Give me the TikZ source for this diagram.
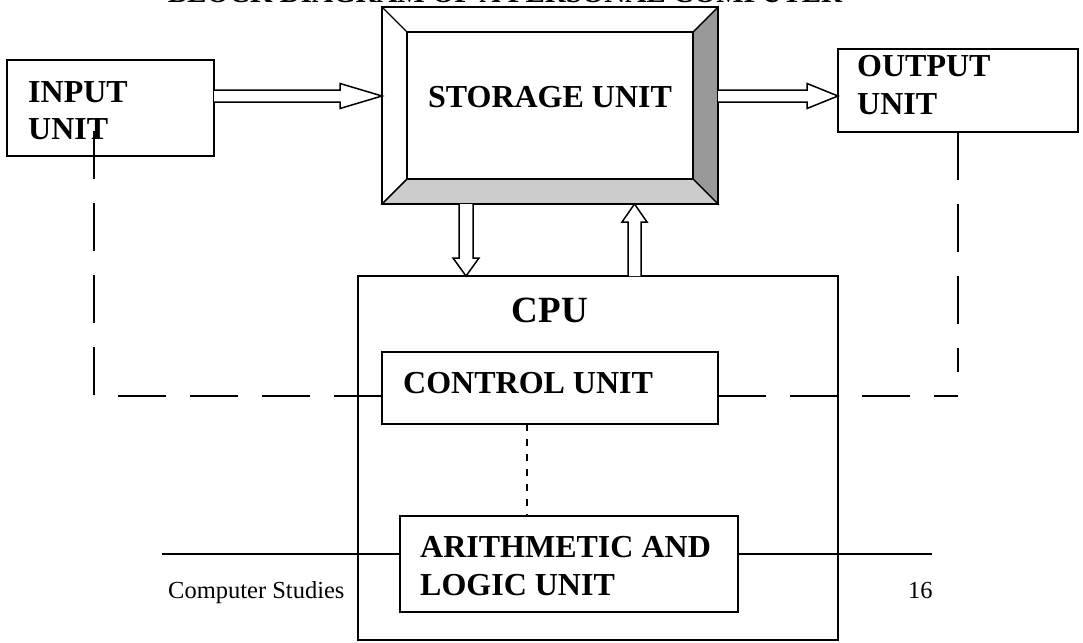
\documentclass[tikz,border=0pt]{standalone}
\usepackage{fontspec}
\setmainfont{Liberation Serif}
\usetikzlibrary{calc}
\tikzset{
  unitbox/.style={draw, line width=1.6pt, fill=white, inner sep=0pt, outer sep=0pt},
  hollow/.style={draw, line width=1.5pt, fill=white, line join=miter},
  link/.style={line width=1.5pt, dash pattern=on 48pt off 24pt},
  finelink/.style={line width=1.5pt, dash pattern=on 7pt off 8pt},
  rule/.style={line width=1.5pt},
  bevel/.style={line width=1.4pt, line join=miter},
  lbl/.style={inner sep=0pt, anchor=base west, font=\fontsize{32}{37}\selectfont\bfseries},
  foot/.style={inner sep=0pt, anchor=base west, font=\fontsize{24.5}{28}\selectfont},
}
\begin{document}
\begin{tikzpicture}[x=1pt, y=-1pt]
  \clip (0,0) rectangle (1083,642);
  \useasboundingbox (0,0) rectangle (1083,642);

  % heading (runs off the top edge of the page)
  \node[inner sep=0pt, anchor=base, font=\fontsize{29}{34}\selectfont\bfseries] (title) at (505,3)
    {BLOCK DIAGRAM OF A PERSONAL COMPUTER};

  % page footer rule (passes behind the ALU box)
  \coordinate (ruleL) at (162,554);
  \coordinate (ruleR) at (932,554);
  \draw[rule] (ruleL) -- (ruleR);

  % CPU frame
  \node[unitbox, fill=none, minimum width=480pt, minimum height=364pt] (cpu) at (598,458) {};
  \node[inner sep=0pt, anchor=base, font=\fontsize{37}{42}\selectfont\bfseries] (cpulabel) at (550,322) {CPU};

  % storage unit with bevelled frame
  \node[unitbox, minimum width=336pt, minimum height=197pt] (storage) at (550,105.5) {};
  \coordinate (iTL) at ($(storage.north west)+(25,25)$);
  \coordinate (iTR) at ($(storage.north east)+(-25,25)$);
  \coordinate (iBR) at ($(storage.south east)+(-25,-25)$);
  \coordinate (iBL) at ($(storage.south west)+(25,-25)$);
  \draw[bevel, fill=black!40] (storage.north east) -- (storage.south east) -- (iBR) -- (iTR) -- cycle;
  \draw[bevel, fill=black!20] (storage.south west) -- (storage.south east) -- (iBR) -- (iBL) -- cycle;
  \draw[bevel] (iTL) -- (iTR) -- (iBR) -- (iBL) -- cycle;
  \draw[bevel] (storage.north west) -- (iTL);
  \draw[bevel] (storage.south west) -- (iBL);
  \draw[line width=1.6pt] (storage.north west) rectangle (storage.south east);
  \node[lbl, anchor=base] (storagelabel) at (550,107) {STORAGE UNIT};

  % input and output units
  \node[unitbox, minimum width=207pt, minimum height=96pt] (input) at (110.5,108) {};
  \node[lbl] (inputl1) at (28,102) {INPUT};
  \node[lbl] (inputl2) at (28,139) {UNIT};

  \node[unitbox, minimum width=240pt, minimum height=83pt] (output) at (958,90.5) {};
  \node[lbl] (outputl1) at (857,76) {OUTPUT};
  \node[lbl] (outputl2) at (857,114) {UNIT};

  % control unit and ALU
  \node[unitbox, minimum width=336pt, minimum height=72pt] (ctrl) at (550,388) {};
  \node[lbl] (ctrllabel) at (403,393) {CONTROL UNIT};

  \node[unitbox, minimum width=338pt, minimum height=96pt] (alu) at (569,564) {};
  \node[lbl] (alul1) at (420,557) {ARITHMETIC AND};
  \node[lbl] (alul2) at (420,595) {LOGIC UNIT};

  % data flow: input -> storage -> output
  \coordinate (busy) at (0,96);
  \draw[hollow]
    ($(input.east|-busy)+(0,6)$) -- ($(storage.west|-busy)+(-42,6)$) --
    ($(storage.west|-busy)+(-42,12.5)$) -- (storage.west|-busy) --
    ($(storage.west|-busy)+(-42,-12.5)$) -- ($(storage.west|-busy)+(-42,-6)$) --
    ($(input.east|-busy)+(0,-6)$);
  \draw[hollow]
    ($(storage.east|-busy)+(0,6)$) -- ($(output.west|-busy)+(-31,6)$) --
    ($(output.west|-busy)+(-31,12.5)$) -- (output.west|-busy) --
    ($(output.west|-busy)+(-31,-12.5)$) -- ($(output.west|-busy)+(-31,-6)$) --
    ($(storage.east|-busy)+(0,-6)$);

  % storage <-> CPU
  \coordinate (dnx) at (466,0);
  \coordinate (upx) at (634.5,0);
  \draw[hollow]
    ($(storage.south-|dnx)+(-7,0)$) -- ($(cpu.north-|dnx)+(-7,-18)$) --
    ($(cpu.north-|dnx)+(-13,-18)$) -- (cpu.north-|dnx) --
    ($(cpu.north-|dnx)+(13,-18)$) -- ($(cpu.north-|dnx)+(7,-18)$) --
    ($(storage.south-|dnx)+(7,0)$);
  \draw[hollow]
    ($(cpu.north-|upx)+(-6.5,0)$) -- ($(storage.south-|upx)+(-6.5,18)$) --
    ($(storage.south-|upx)+(-12.5,18)$) -- (storage.south-|upx) --
    ($(storage.south-|upx)+(12.5,18)$) -- ($(storage.south-|upx)+(6.5,18)$) --
    ($(cpu.north-|upx)+(6.5,0)$);

  % control signals
  \coordinate (inctl) at (94,131);
  \coordinate (lcorner) at (94,396);
  \coordinate (rcorner) at (958,396);
  \coordinate (rstop) at (958,372);
  \draw[link] (inctl) -- (lcorner);
  \draw[link] (ctrl.west|-lcorner) -- (lcorner);
  \draw[link] (output.south) -- (rstop);
  \draw[link] (ctrl.east|-rcorner) -- (rcorner);
  \coordinate (midx) at (527,0);
  \draw[finelink] (ctrl.south-|midx) -- (alu.north-|midx);

  % footer text
  \node[foot] (footl) at (168,598) {Computer Studies};
  \node[foot] (footr) at (908,598) {16};
\end{tikzpicture}
\end{document}
